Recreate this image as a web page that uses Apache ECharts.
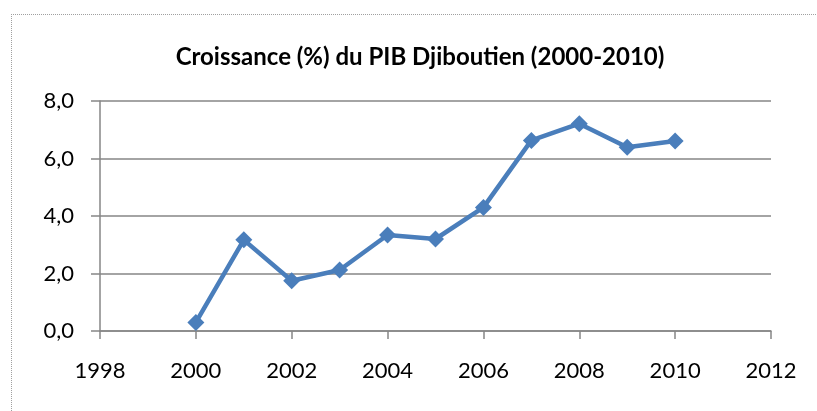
<!DOCTYPE html>
<html>
<head>
<meta charset="utf-8">
<script src="https://cdn.jsdelivr.net/npm/echarts@6/dist/echarts.min.js"></script>
<style>
html,body{margin:0;padding:0;background:#fff;}
#chart{width:817px;height:411px;position:relative;}
#frame{position:absolute;left:11px;top:14px;width:820px;height:420px;border-top:1px dotted #a0a0a0;border-left:1px dotted #a0a0a0;pointer-events:none;}
</style>
</head>
<body>
<div id="chart"></div>
<div id="frame"></div>
<script>
// Croissance du PIB (%) par année
var years = [2000, 2001, 2002, 2003, 2004, 2005, 2006, 2007, 2008, 2009, 2010];
var growth = [0.3, 3.17, 1.75, 2.12, 3.34, 3.2, 4.3, 6.63, 7.21, 6.39, 6.61];
var titleText = 'Croissance (%) du PIB Djiboutien (2000-2010)';

var myChart = echarts.init(document.getElementById('chart'));
var font = 'Lato, "Open Sans", sans-serif';
option = {
	animation: false,
	title: {
		text: titleText,
		left: 415,
		textAlign: 'center',
		top: 40,
		textStyle: {fontFamily: font, fontSize: 24, fontWeight: 'bold', color: '#000'}
	},
	grid: {left: 100, right: 46, top: 101, bottom: 80},
	xAxis: {
		type: 'value',
		min: 1998, max: 2012, interval: 2,
		axisLine: {lineStyle: {color: '#868686', width: 1.5}},
		axisTick: {show: true, length: 8, lineStyle: {color: '#868686', width: 1.5}},
		axisLabel: {
			color: '#000', fontFamily: font, fontSize: 22, margin: 29,
			formatter: function(v){ return String(v); }
		},
		splitLine: {show: false}
	},
	yAxis: {
		type: 'value',
		min: 0, max: 8, interval: 2,
		axisLine: {show: true, lineStyle: {color: '#868686', width: 1.5}},
		axisTick: {show: true, length: 9, lineStyle: {color: '#868686', width: 1.5}},
		axisLabel: {
			color: '#000', fontFamily: font, fontSize: 22, margin: 26,
			formatter: function(v){ return v.toFixed(1).replace('.', ','); }
		},
		splitLine: {lineStyle: {color: '#868686', width: 1.5}}
	},
	series: [{
		type: 'line',
		data: years.map(function(y, i){ return [y, growth[i]]; }),
		symbol: 'diamond',
		symbolSize: 17,
		lineStyle: {color: '#4a7ebb', width: 4.5},
		itemStyle: {color: '#4a7ebb'}
	}]
};
myChart.setOption(option);
</script>
</body>
</html>
